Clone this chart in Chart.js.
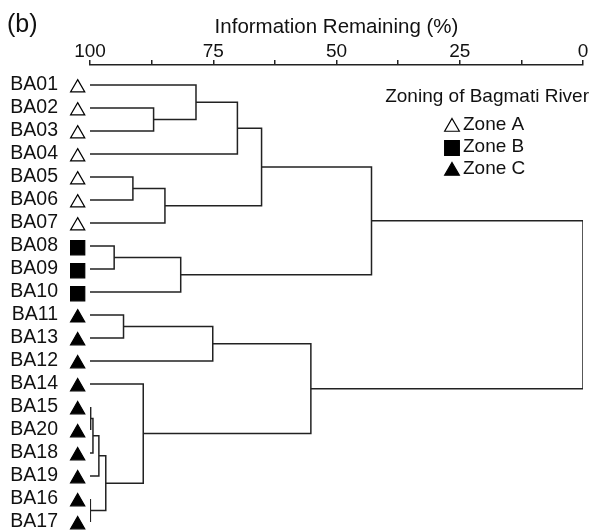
<!DOCTYPE html>
<html>
<head>
<meta charset="utf-8">
<script src="https://cdn.jsdelivr.net/npm/chart.js@4/dist/chart.umd.min.js"></script>
<style>
  body { margin: 0; background: #fff; }
  canvas { display: block; }
</style>
</head>
<body>
<canvas id="chart" width="593" height="530"></canvas>
<script>
// Leaves, top to bottom as in the dendrogram
const leaves = ["BA01", "BA02", "BA03", "BA04", "BA05", "BA06", "BA07", "BA08", "BA09", "BA10",
                "BA11", "BA13", "BA12", "BA14", "BA15", "BA20", "BA18", "BA19", "BA16", "BA17"];
const zones = ["A", "A", "A", "A", "A", "A", "A", "B", "B", "B",
               "C", "C", "C", "C", "C", "C", "C", "C", "C", "C"];

// Merges: [child, child, information remaining (%)]
// ids < 20 are leaves, ids >= 20 are earlier merges in order
const merges = [
  [1, 2, 87.1],    // 20
  [0, 20, 78.5],   // 21
  [21, 3, 70.1],   // 22
  [4, 5, 91.3],    // 23
  [23, 6, 84.8],   // 24
  [22, 24, 65.2],  // 25
  [7, 8, 95.1],    // 26
  [26, 9, 81.6],   // 27
  [25, 27, 42.9],  // 28
  [10, 11, 93.2],  // 29
  [29, 12, 75.1],  // 30
  [14, 15, 99.8],  // 31
  [31, 16, 99.4],  // 32
  [32, 17, 98.2],  // 33
  [18, 19, 99.9],  // 34
  [33, 34, 96.8],  // 35
  [13, 35, 89.2],  // 36
  [30, 36, 55.2],  // 37
  [28, 37, 0]      // 38
];

const xTicks = [0, 12.5, 25, 37.5, 50, 62.5, 75, 87.5, 100];
const axisTitle = "Information Remaining (%)";
const legendTitle = "Zoning of Bagmati River";
const zoneNames = ["Zone A", "Zone B", "Zone C"];

const FONT = '"Liberation Sans", Arial, Helvetica, sans-serif';
const INK = "#111";
const LINE = "#222";
const markerX = 102.5;

const zoneStyle = {
  A: { pointStyle: "triangle", fill: "#fff", radius: 8.5, dy: 2 },
  B: { pointStyle: "rect", fill: "#000", radius: 10.4, dy: 1 },
  C: { pointStyle: "triangle", fill: "#000", radius: 8.5, dy: 2 }
};

// node positions: y = leaf row (mean for clusters), x = height
const nodeY = leaves.map((_, i) => i);
const nodeH = leaves.map(() => 100);
merges.forEach(([a, b, h]) => {
  nodeY.push((nodeY[a] + nodeY[b]) / 2);
  nodeH.push(h);
});

const linkSets = merges.map(([a, b, h]) => ({
  type: "scatter",
  showLine: true,
  data: [
    { x: nodeH[a], y: nodeY[a] },
    { x: h, y: nodeY[a] },
    { x: h, y: nodeY[b] },
    { x: nodeH[b], y: nodeY[b] }
  ],
  borderColor: LINE,
  borderWidth: 1.5,
  pointRadius: 0,
  tension: 0,
  fill: false
}));

const markerSet = {
  type: "scatter",
  data: leaves.map((_, i) => ({ x: markerX, y: i })),
  pointStyle: zones.map(z => zoneStyle[z].pointStyle),
  pointRadius: zones.map(z => zoneStyle[z].radius - (z === "B" ? 0.4 : 0.3)),
  backgroundColor: zones.map(z => zoneStyle[z].fill),
  borderColor: "#000",
  borderWidth: 1.2,
  clip: false
};

// leaf markers sit left of the chart area, so draw their elements unclipped
const markers = {
  id: "markers",
  afterDatasetsDraw(chart) {
    const meta = chart.getDatasetMeta(chart.data.datasets.length - 1);
    const ctx = chart.ctx;
    meta.data.forEach((el, i) => {
      ctx.save();
      ctx.translate(0, zoneStyle[zones[i]].dy + 0.8);
      el.draw(ctx);
      ctx.restore();
    });
  }
};

// "(b)" and the zone legend
const extras = {
  id: "extras",
  afterDraw(chart) {
    const ctx = chart.ctx;
    ctx.save();
    ctx.fillStyle = INK;
    ctx.textBaseline = "middle";
    ctx.font = "25px " + FONT;
    ctx.fillText("(b)", 7, 25);

    ctx.font = "19px " + FONT;
    ctx.textAlign = "right";
    ctx.fillText(legendTitle, 589, 97);
    ctx.textAlign = "left";
    ["A", "B", "C"].forEach((z, i) => {
      const y = 125 + i * 22;
      const s = zoneStyle[z];
      ctx.fillStyle = s.fill;
      ctx.strokeStyle = "#000";
      ctx.lineWidth = 1.2;
      Chart.helpers.drawPoint(ctx, { pointStyle: s.pointStyle, radius: s.radius, rotation: 0, borderWidth: 1.2 }, 452, y + s.dy);
      ctx.fillStyle = INK;
      ctx.fillText(zoneNames[i], 463, y);
    });
    ctx.restore();
  }
};

new Chart(document.getElementById("chart"), {
  type: "scatter",
  data: { datasets: [...linkSets, markerSet] },
  options: {
    responsive: false,
    animation: false,
    layout: { autoPadding: false, padding: { left: 8, right: 10, top: 0, bottom: 0 } },
    plugins: { legend: { display: false }, tooltip: { enabled: false } },
    scales: {
      x: {
        type: "linear",
        position: "top",
        reverse: true,
        min: 0,
        max: 100,
        afterBuildTicks: ax => { ax.ticks = xTicks.map(v => ({ value: v })); },
        afterFit: ax => { ax.height = 65; },
        border: { display: true, color: LINE, width: 1.5 },
        grid: { display: true, drawOnChartArea: false, drawTicks: true, tickLength: 5, color: LINE, lineWidth: 1.5 },
        ticks: {
          callback: v => (v % 25 === 0 ? v : ""),
          padding: -3,
          color: INK,
          font: { family: FONT, size: 19 },
          maxRotation: 0,
          autoSkip: false
        },
        title: {
          display: true,
          text: axisTitle,
          color: INK,
          font: { family: FONT, size: 20.5 },
          padding: { top: 15, bottom: 0 }
        }
      },
      y: {
        type: "linear",
        reverse: true,
        min: -0.87,
        max: 19.35,
        afterBuildTicks: ax => { ax.ticks = leaves.map((_, i) => ({ value: i })); },
        afterFit: ax => { ax.width = 82; ax.paddingTop = 0; ax.paddingBottom = 0; },
        border: { display: false },
        grid: { display: false, drawTicks: false },
        ticks: {
          callback: v => leaves[v],
          padding: 32,
          color: INK,
          font: { family: FONT, size: 19.5 },
          autoSkip: false
        }
      }
    }
  },
  plugins: [markers, extras]
});
</script>
</body>
</html>
